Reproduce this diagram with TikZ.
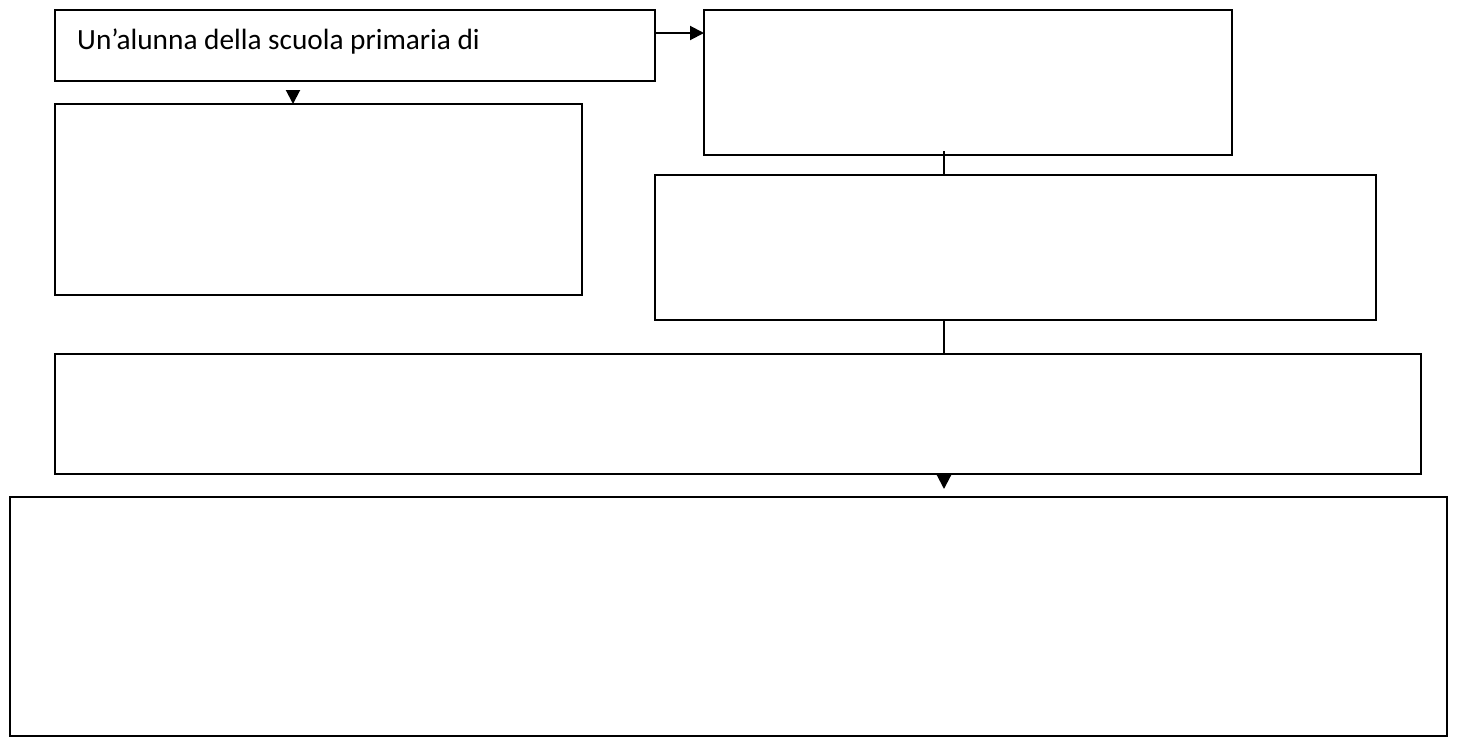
\documentclass[tikz,border=0pt]{standalone}
\usepackage{fontspec}
\setmainfont{Carlito}
\usetikzlibrary{arrows.meta}
\begin{document}
\begin{tikzpicture}[x=1pt,y=-1pt,
  box/.style={draw=black,line width=2pt,fill=white},
  conn/.style={draw=black,line width=2pt},
  tip/.style={-{Triangle[length=14pt,width=14pt]}}]
\useasboundingbox[fill=white] (0,0) rectangle (1457,740);
\path[box] (55,10) rectangle (655,81);
\node[anchor=base west,inner sep=0pt,font=\fontsize{29.3}{34}\selectfont] (Atext) at (77,49) {Un’alunna della scuola primaria di};
\path[box] (704,10) rectangle (1232,155);
\path[box] (55,104) rectangle (582,295);
\path[box] (655,175) rectangle (1376,320);
\path[box] (55,354) rectangle (1421,474);
\path[box] (10,497) rectangle (1447,736);
% connection points
\coordinate (AR) at (655,33);
\coordinate (BL) at (704,33);
\coordinate (Cup) at (293,90);
\coordinate (Ctop) at (293,104);
\coordinate (Bbot) at (944,151);
\coordinate (Dtop) at (944,175);
\coordinate (Dbot) at (944,320);
\coordinate (Etop) at (944,354);
\coordinate (Ebot) at (944,475);
\coordinate (Etip) at (944,489);
\draw[conn,tip] (AR) -- (BL);
\draw[conn,tip] (Cup) -- (Ctop);
\draw[conn] (Bbot) -- (Dtop);
\draw[conn] (Dbot) -- (Etop);
\draw[conn,tip] (Ebot) -- (Etip);
\end{tikzpicture}
\end{document}
